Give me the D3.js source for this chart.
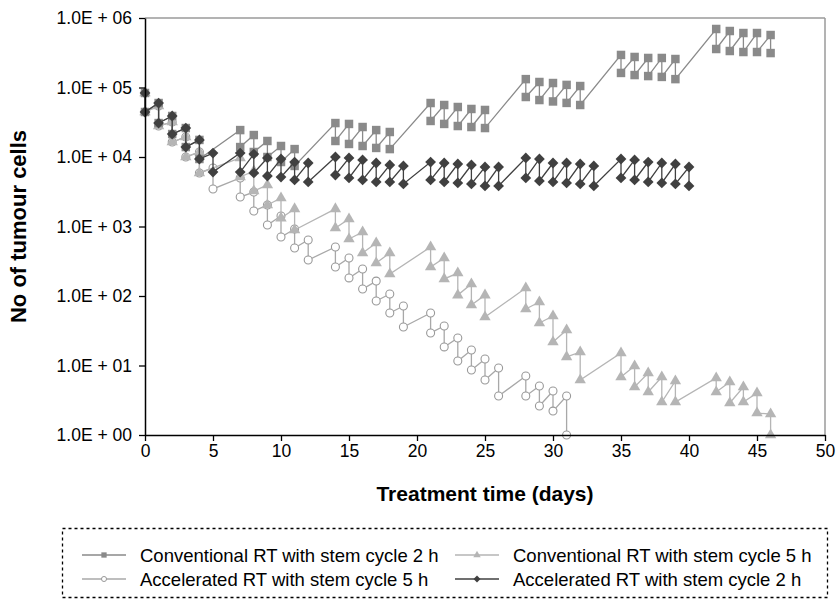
<!DOCTYPE html>
<html>
<head>
<meta charset="utf-8">
<script src="https://cdn.jsdelivr.net/npm/d3@7"></script>
<style>
  html, body { margin: 0; padding: 0; background: #fff; }
  svg { display: block; font-family: "Liberation Sans", Arial, sans-serif; }
</style>
</head>
<body>
<svg id="chart" width="836" height="605"></svg>
<script>
// Fraction days: conventional = 5 per week, accelerated = 6 per week
const conventionalDays = [0,1,2,3,4, 7,8,9,10,11, 14,15,16,17,18, 21,22,23,24,25, 28,29,30,31,32, 35,36,37,38,39, 42,43,44,45,46];
const acceleratedDays = [0,1,2,3,4,5, 7,8,9,10,11,12, 14,15,16,17,18,19, 21,22,23,24,25,26, 28,29,30,31,32,33, 35,36,37,38,39,40];

// Cell numbers just before (pre) and just after (post) each fraction
const conv2hPre  = [83400,59800,38900,26100,17600, 24400,20700,17000,14400,13000, 30800,29900,27000,24400,22900, 59800,56000,52400,49100,47500, 132000,120000,116000,109000,105000, 294000,275000,266000,266000,257000, 695000,650000,608000,608000,569000];
const conv2hPost = [44400,30800,21400,13900,9360, 13900,11800,10000,8470,7430, 17000,15400,14400,13500,13000, 33000,29900,27900,27000,26100, 73000,66000,63000,60000,56000, 162000,151000,146000,142000,132000, 358000,335000,324000,324000,313000];

const conv5hPre  = [83400,54200,31900,19400,11800, 9680,6290,3960,2570,1790, 1790,1280,834,579,416, 507,352,214,149,103, 130,82.0,51.5,32.4,15.6, 15.1,9.84,7.80,6.83,5.98, 6.61,5.79,4.91,4.02,2.00];
const conv5hPost = [44400,27900,16400,10000,5890, 5150,3240,2040,1320,891, 951,661,416,298,207, 261,176,103,74.2,49.9, 65.0,40.9,21.8,13.3,6.18, 6.83,4.91,4.16,2.98,2.98, 4.16,2.89,2.98,2.07,1.0];

const acc5hPre  = [83400,54200,31900,19400,11800,6950, 4990,3130,2040,1420,920,640, 507,352,245,164,107,71.8, 56.9,37.0,24.9,16.7,12.4,9.20, 7.06,5.07,4.30,3.64];
const acc5hPost = [44400,27900,16400,10000,5890,3470, 2660,1670,1050,706,491,330, 261,182,126,84.7,56.9,35.8, 29.4,18.5,11.6,8.61,6.18,3.64, 3.64,2.61,2.21,1.0];

const acc2hPre  = [83400,59800,38900,26100,17600,11400, 11400,11000,9680,9360,8470,8200, 10000,9680,9060,8200,7670,7430, 8470,8200,7930,7670,7180,7180, 9680,9360,8200,8200,7930,7430, 9360,9060,8470,8200,7930,7180];
const acc2hPost = [44400,30800,21400,13900,9360,6080, 6080,5890,5330,5150,4670,4370, 5510,4990,4670,4370,4370,4090, 4670,4370,4230,4090,3830,3830, 4990,4520,4370,4230,4090,3830, 4990,4670,4370,4230,4090,3830];

const seriesNames = [
  "Conventional RT with stem cycle 2 h",
  "Conventional RT with stem cycle 5 h",
  "Accelerated RT with stem cycle 5 h",
  "Accelerated RT with stem cycle 2 h"
];

const xTicks = [0,5,10,15,20,25,30,35,40,45,50];
const yTicks = [1,10,100,1000,10000,100000,1000000];
const yTickLabels = ["1.0E + 00","1.0E + 01","1.0E + 02","1.0E + 03","1.0E + 04","1.0E + 05","1.0E + 06"];

const xTitle = "Treatment time (days)";
const yTitle = "No of tumour cells";

// ---- layout ----
const svg = d3.select("#chart");
const plot = { left: 145, right: 825, top: 18, bottom: 435 };

const x = d3.scaleLinear().domain([0, 50]).range([plot.left, plot.right]);
const y = d3.scaleLog().domain([1, 1e6]).range([plot.bottom, plot.top]);

// frame: grey top / right border
svg.append("line").attr("x1", plot.left).attr("x2", plot.right).attr("y1", plot.top).attr("y2", plot.top)
  .attr("stroke", "#9a9a9a").attr("stroke-width", 1.5);
svg.append("line").attr("x1", plot.right).attr("x2", plot.right).attr("y1", plot.top).attr("y2", plot.bottom)
  .attr("stroke", "#9a9a9a").attr("stroke-width", 1.5);

// zig-zag path: pre -> post at the same day, then regrowth to the next pre
function zigzag(days, pre, post) {
  const pts = [];
  pre.forEach((v, i) => {
    pts.push([days[i], v]);
    pts.push([days[i], post[i]]);
  });
  return pts;
}

const series = [
  { name: seriesNames[2], days: acceleratedDays.slice(0, acc5hPre.length), pre: acc5hPre, post: acc5hPost,
    line: "#a8a8a8", kind: "circle", fill: "#fff", stroke: "#999999" },
  { name: seriesNames[1], days: conventionalDays, pre: conv5hPre, post: conv5hPost,
    line: "#b5b5b5", kind: "triangle", fill: "#b5b5b5", stroke: "none" },
  { name: seriesNames[0], days: conventionalDays, pre: conv2hPre, post: conv2hPost,
    line: "#8a8a8a", kind: "square", fill: "#8a8a8a", stroke: "none" },
  { name: seriesNames[3], days: acceleratedDays, pre: acc2hPre, post: acc2hPost,
    line: "#404040", kind: "diamond", fill: "#404040", stroke: "none" }
];

const symbolFor = {
  circle: d3.symbol().type(d3.symbolCircle).size(50),
  triangle: d3.symbol().type(d3.symbolTriangle).size(56),
  square: d3.symbol().type(d3.symbolSquare).size(72),
  diamond: d3.symbol().type(d3.symbolSquare).size(58)
};
const legendSymbolFor = {
  circle: d3.symbol().type(d3.symbolCircle).size(20),
  triangle: d3.symbol().type(d3.symbolTriangle).size(24),
  square: d3.symbol().type(d3.symbolSquare).size(28),
  diamond: d3.symbol().type(d3.symbolSquare).size(24)
};

const lineGen = d3.line().x(d => x(d[0])).y(d => y(d[1]));

series.forEach(s => {
  const pts = zigzag(s.days, s.pre, s.post);
  const g = svg.append("g");
  g.append("path").attr("d", lineGen(pts)).attr("fill", "none")
    .attr("stroke", s.line).attr("stroke-width", 1.3);
  g.selectAll("path.m").data(pts).join("path").attr("class", "m")
    .attr("d", symbolFor[s.kind])
    .attr("transform", d => `translate(${x(d[0])},${y(d[1])})` + (s.kind === "diamond" ? " rotate(45)" : ""))
    .attr("fill", s.fill).attr("stroke", s.stroke).attr("stroke-width", 1.1);
});

// ---- axes ----
const yAxis = d3.axisLeft(y).tickValues(yTicks)
  .tickFormat(d => yTickLabels[yTicks.indexOf(d)]).tickSize(6).tickSizeOuter(0);
const gy = svg.append("g").attr("transform", `translate(${plot.left},0)`).call(yAxis);
gy.select(".domain").attr("stroke", "#000").attr("stroke-width", 1.5);
gy.selectAll(".tick line").attr("stroke", "#000").attr("stroke-width", 1.3);
gy.selectAll(".tick text").attr("font-size", 17.5).attr("fill", "#000").attr("x", -13)
  .attr("font-family", "'Liberation Sans', Arial, sans-serif");

const xAxis = d3.axisBottom(x).tickValues(xTicks).tickSize(6).tickSizeOuter(0);
const gx = svg.append("g").attr("transform", `translate(0,${plot.bottom})`).call(xAxis);
gx.select(".domain").attr("stroke", "#000").attr("stroke-width", 1.5);
gx.selectAll(".tick line").attr("stroke", "#000").attr("stroke-width", 1.3);
gx.selectAll(".tick text").attr("font-size", 17.5).attr("fill", "#000").attr("y", 10)
  .attr("font-family", "'Liberation Sans', Arial, sans-serif");

// axis titles
svg.append("text").attr("x", (plot.left + plot.right) / 2).attr("y", 501)
  .attr("text-anchor", "middle").attr("font-weight", "bold").attr("font-size", 21).text(xTitle);
svg.append("text").attr("transform", `translate(26,${(plot.top + plot.bottom) / 2}) rotate(-90)`)
  .attr("text-anchor", "middle").attr("font-weight", "bold").attr("font-size", 22).text(yTitle);

// ---- legend ----
const legend = svg.append("g");
legend.append("rect").attr("x", 62.5).attr("y", 528.5).attr("width", 765).attr("height", 69)
  .attr("fill", "none").attr("stroke", "#000").attr("stroke-width", 1.3).attr("stroke-dasharray", "3,3");

const legendOrder = [
  { s: series[2], col: 0, row: 0 },
  { s: series[1], col: 1, row: 0 },
  { s: series[0], col: 0, row: 1 },
  { s: series[3], col: 1, row: 1 }
];
const colX = [82, 455];
const rowY = [555, 579];
legendOrder.forEach(({ s, col, row }) => {
  const lx = colX[col], ly = rowY[row];
  legend.append("line").attr("x1", lx).attr("x2", lx + 44).attr("y1", ly).attr("y2", ly)
    .attr("stroke", s.line).attr("stroke-width", 1.3);
  legend.append("path").attr("d", legendSymbolFor[s.kind])
    .attr("transform", `translate(${lx + 22},${ly})` + (s.kind === "diamond" ? " rotate(45)" : ""))
    .attr("fill", s.fill).attr("stroke", s.stroke).attr("stroke-width", 1);
  legend.append("text").attr("x", lx + 58).attr("y", ly + 6.5).attr("font-size", 18.5).text(s.name);
});
</script>
</body>
</html>
